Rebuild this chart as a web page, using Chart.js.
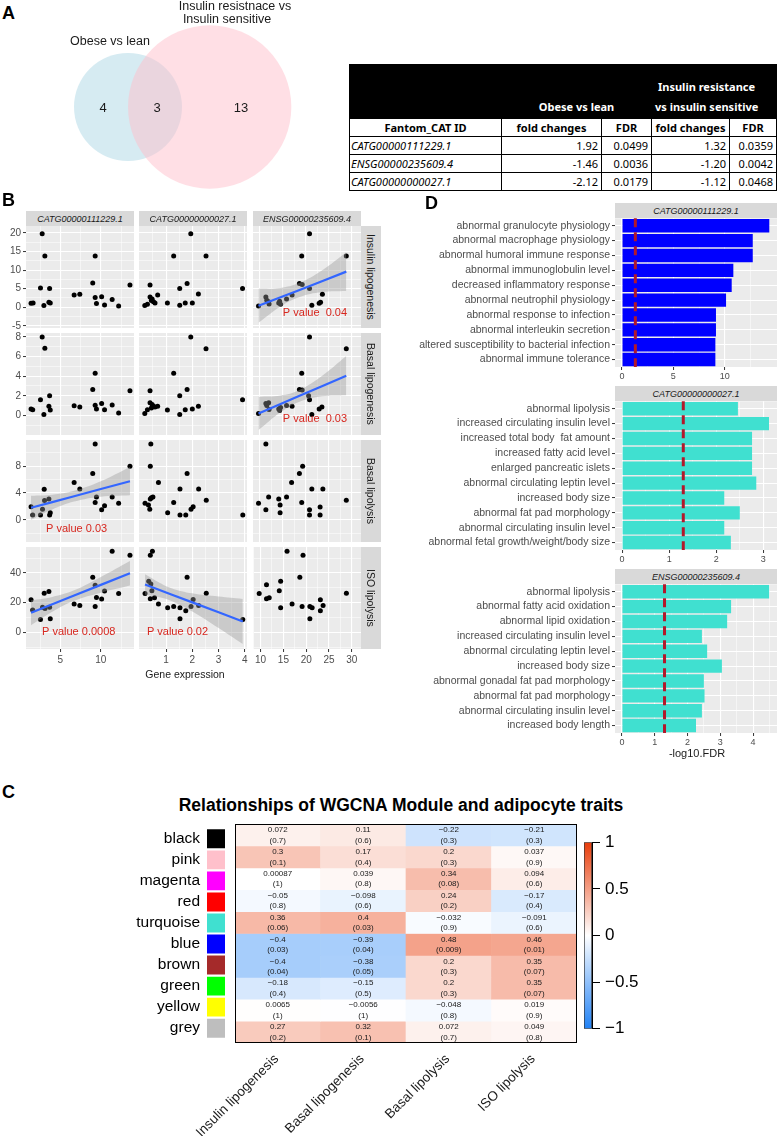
<!DOCTYPE html>
<html>
<head>
<meta charset="utf-8">
<title>Fantom_CAT genes and adipocyte traits</title>
<script src="https://cdn.jsdelivr.net/npm/chart.js@4.4.1/dist/chart.umd.min.js"></script>
<style>
  body { margin: 0; background: #fff; }
  #page { position: relative; width: 781px; height: 1136px; overflow: hidden;
          font-family: "Liberation Sans", Arial, sans-serif; color: #000; }
  #page canvas { position: absolute; }
  .txt { position: absolute; white-space: nowrap; line-height: 1; }
  .tag { position: absolute; font-weight: bold; font-size: 18px; line-height: 1; }
  .strip { position: absolute; background: #D9D9D9; color: #1A1A1A; font-size: 9px; font-style: italic;
           display: flex; align-items: center; justify-content: center; white-space: nowrap; }
  .strip.side { writing-mode: vertical-rl; font-style: normal; font-size: 10.5px; }
  #fcTable { position: absolute; left: 349px; top: 64px; width: 427px; table-layout: fixed;
             border-collapse: collapse; font-family: "Noto Sans", sans-serif; font-size: 11px; }
  #fcTable td { border: 1px solid #000; padding: 0 3px; height: 17px; line-height: 17px; white-space: nowrap; }
  #fcTable tr.dark td { background: #000; color: #fff; font-weight: bold; vertical-align: bottom;
                        text-align: center; height: 52px; line-height: 20px; padding-bottom: 1px; }
  #fcTable tr.dark td.ir { padding-right: 18px; }
  #fcTable tr.head td { font-weight: bold; text-align: center; }
  #fcTable td.id { font-style: italic; padding-left: 1px; }
  #fcTable td.num { text-align: right; }
</style>
</head>
<body>
<div id="page"></div>
<script>
// ---------------- A: overlap of the two comparisons ----------------
const vennNames = ['Obese vs lean', 'Insulin resistnace vs', 'Insulin sensitive'];
const vennOnly = [4, 13];      // genes only in each comparison
const vennBoth = 3;            // genes in both
const vennFills = ['rgba(173,216,230,0.5)', 'rgba(255,192,203,0.5)'];

const tableIds = ['CATG00000111229.1', 'ENSG00000235609.4', 'CATG00000000027.1'];
const obeseFold = [1.92, -1.46, -2.12];
const obeseFdr = [0.0499, 0.0036, 0.0179];
const irFold = [1.32, -1.20, -1.12];
const irFdr = [0.0359, 0.0042, 0.0468];

// ---------------- B: trait vs gene expression ----------------
const genes = ['CATG00000111229.1', 'CATG00000000027.1', 'ENSG00000235609.4'];
const traits = ['Insulin lipogenesis', 'Basal lipogenesis', 'Basal lipolysis', 'ISO lipolysis'];

const insLipo1 = [[1.375,1.07],[1.63,1.16],[2.75,19.8],[2.54,5.2],[3.08,13.8],[2.96,0.44],[3.67,5.07],[3.58,1.33],[3.75,1.16],[6.7,3.3],
  [7.4,3.5],[9.3,13.8],[9.0,6.5],[9.3,2.6],[9.46,1.0],[10.1,2.8],[10.46,0.6],[11.4,2.1],[12.2,0.36],[13.6,6.0]];
const insLipo2 = [[1.94,19.8],[1.29,13.8],[2.52,13.8],[0.39,5.96],[1.52,5.07],[1.80,6.4],[2.23,3.56],[3.91,5.07],[0.68,3.3],[0.39,2.76],
  [0.47,2.2],[0.44,1.8],[0.52,1.5],[0.19,0.44],[0.29,0.8],[0.58,1.16],[1.05,1.16],[1.52,0.53],[1.73,1.16],[2.0,1.16]];
const insLipo3 = [[20.8,19.8],[19.1,13.8],[28.8,13.8],[9.7,0.36],[11.3,2.76],[12.0,0.9],[14.1,1.16],[14.5,0.8],[15.8,2.2],[17.0,3.3],
  [18.6,6.4],[19.2,6.1],[20.8,5.07],[21.3,0.53],[22.9,1.07],[23.2,1.33],[23.6,3.5],[11.9,1.5],[14.3,1.6],[11.5,1.9]];

const basLipo1 = [[1.375,0.65],[1.58,0.57],[2.75,8.0],[3.08,6.85],[2.54,1.6],[2.96,0.1],[3.67,2.0],[3.58,0.93],[3.75,0.54],[6.7,0.97],
  [7.4,0.86],[9.3,4.3],[9.0,2.65],[9.3,1.04],[9.46,0.65],[10.1,1.2],[10.46,0.57],[11.4,1.07],[12.2,0.25],[13.6,2.5]];
const basLipo2 = [[1.94,8.0],[2.52,6.8],[1.29,4.3],[0.39,2.5],[1.52,2.0],[1.80,2.65],[2.23,0.93],[3.91,1.6],[0.68,0.93],[0.39,1.3],
  [0.47,1.1],[0.52,0.93],[0.19,0.2],[0.29,0.57],[0.58,0.86],[1.05,0.54],[1.52,0.1],[1.73,0.57],[2.0,0.65],[0.44,0.75]];
const basLipo3 = [[20.8,8.0],[28.8,6.8],[19.1,4.3],[9.7,0.2],[11.3,1.2],[11.5,1.0],[12.0,0.6],[14.1,0.65],[14.5,0.8],[15.8,1.0],
  [17.0,0.93],[18.6,2.65],[19.2,2.6],[20.6,2.0],[20.8,1.6],[21.3,0.1],[22.9,0.65],[23.5,0.86],[11.9,1.3],[14.3,0.5]];

const basLys1 = [[1.375,1.94],[1.58,0.73],[3.0,4.55],[3.04,2.9],[3.58,3.1],[2.79,1.57],[2.54,0.73],[3.67,0.73],[3.75,1.05],[6.7,5.55],
  [7.4,4.6],[9.0,6.9],[9.3,2.6],[9.46,3.4],[10.1,1.5],[10.46,2.1],[11.4,3.4],[12.2,2.46],[13.6,8.0],[9.3,11.3]];
const basLys2 = [[0.42,11.3],[0.4,8.0],[0.71,5.55],[1.8,6.9],[1.53,4.6],[2.24,4.6],[2.53,2.93],[1.29,2.6],[0.44,3.3],[0.5,3.4],
  [0.4,3.1],[0.2,2.46],[0.33,2.2],[0.38,1.57],[1.06,1.05],[1.53,0.73],[1.75,0.73],[1.95,1.57],[2.03,1.94],[3.92,0.73]];
const basLys3 = [[11.3,11.3],[19.3,8.0],[18.6,6.9],[16.9,5.55],[21.3,4.6],[23.7,4.6],[11.9,3.4],[14.1,3.1],[15.8,3.4],[14.4,2.2],
  [9.7,2.46],[11.3,1.5],[19.1,2.6],[20.8,1.5],[20.8,0.73],[23.1,1.9],[23.1,0.73],[14.4,1.05],[28.8,2.93]];

const isoLys1 = [[1.375,21.9],[1.58,15.1],[2.54,8.7],[2.79,16.9],[3.0,26.4],[3.58,27.5],[3.67,16.9],[3.75,9.2],[6.7,19.1],[7.4,18.1],
  [9.0,37.2],[9.3,17.4],[9.46,23.5],[9.3,31.8],[10.1,22.4],[10.46,27.8],[11.4,54.6],[12.2,26.1],[13.6,52.0],[3.1,16.0]];
const isoLys2 = [[0.4,52],[0.48,54.6],[1.8,37.2],[0.34,34.4],[0.2,26.1],[0.4,22.6],[0.56,23.3],[0.46,28],[0.71,19.1],[1.06,16.5],
  [1.29,17.4],[1.53,16.5],[1.53,9.2],[1.75,14.6],[1.95,17.4],[2.03,22.1],[2.24,18.1],[2.53,26.4],[3.92,8.7],[0.42,32.5]];
const isoLys3 = [[15.8,54.6],[19.3,52],[18.6,37.2],[14.4,34.4],[11.3,32],[9.7,26.1],[14.1,28],[11.3,22.6],[11.9,23.3],[16.9,19.1],
  [14.4,16.5],[19.1,17.4],[20.8,17.4],[21.3,16.5],[20.8,9.2],[23.1,21.9],[23.7,18.1],[23.1,14.6],[28.8,26.4]];

// linear fits with confidence band: [x, fit, lower, upper]
const fitInsLipo3 = [[9.7,0.4,-4.2,5.0],[14.5,2.7,0.2,5.2],[18.5,4.6,2.7,6.5],[23.5,7.0,4.1,9.9],[28.8,9.6,4.4,14.8]];
const fitBasLipo3 = [[9.7,0.2,-1.5,1.9],[14.5,1.17,0.31,2.03],[18.5,1.97,1.37,2.57],[23.5,2.98,1.94,4.02],[28.8,4.05,2.05,6.05]];
const fitBasLys1 = [[1.375,1.8,0.0,3.6],[4,2.65,1.55,3.75],[6.7,3.52,2.72,4.32],[10,4.59,3.44,5.74],[13.6,5.76,3.66,7.86]];
const fitIsoLys1 = [[1.375,13.2,4.8,21.6],[4,18.9,13.9,23.9],[6.7,24.8,21.3,28.3],[10,32.0,26.7,37.3],[13.6,39.8,31.5,48.1]];
const fitIsoLys2 = [[0.2,32.2,25.3,39.1],[0.7,28.9,23.8,34.0],[1.2,25.5,21.2,29.8],[2.0,20.2,14.1,26.3],[3.0,13.5,2.9,24.1],[3.92,7.3,-7.9,22.5]];

// text, row, col, x, y
const pNotes = [['P value  0.04', 0, 2, 15.0, -1.5], ['P value  0.03', 1, 2, 15.0, -0.4],
  ['P value 0.03', 2, 0, 3.22, -1.3], ['P value 0.0008', 3, 0, 2.73, 0.2], ['P value 0.02', 3, 1, 0.27, 0.2]];

const xRanges = [[0.75, 14.1], [-0.03, 4.08], [8.5, 32]];
const xMajor = [[5, 10], [1, 2, 3, 4], [10, 15, 20, 25, 30]];
const xMinor = [[2.5, 7.5, 12.5], [0.5, 1.5, 2.5, 3.5], [12.5, 17.5, 22.5, 27.5]];
const yRanges = [[-5.6, 21.9], [-2.0, 8.4], [-3.3, 11.9], [-11.2, 57.5]];
const yMajor = [[-5, 0, 5, 10, 15, 20], [0, 2, 4, 6, 8], [0, 4, 8], [0, 20, 40]];
const yMinor = [[-2.5, 2.5, 7.5, 12.5, 17.5], [-1, 1, 3, 5, 7], [-2, 2, 6, 10], [-10, 10, 30, 50]];

// ---------------- D: enriched phenotypes ----------------
const d1Terms = ['abnormal granulocyte physiology', 'abnormal macrophage physiology', 'abnormal humoral immune response',
  'abnormal immunoglobulin level', 'decreased inflammatory response', 'abnormal neutrophil physiology',
  'abnormal response to infection', 'abnormal interleukin secretion', 'altered susceptibility to bacterial infection',
  'abnormal immune tolerance'];
const d1LogFdr = [14.34, 12.73, 12.73, 10.84, 10.68, 10.13, 9.15, 9.15, 9.09, 9.09];
const d2Terms = ['abnormal lipolysis', 'increased circulating insulin level', 'increased total body  fat amount',
  'increased fatty acid level', 'enlarged pancreatic islets', 'abnormal circulating leptin level', 'increased body size',
  'abnormal fat pad morphology', 'abnormal circulating insulin level', 'abnormal fetal growth/weight/body size'];
const d2LogFdr = [2.46, 3.12, 2.76, 2.76, 2.76, 2.85, 2.17, 2.5, 2.17, 2.31];
const d3Terms = ['abnormal lipolysis', 'abnormal fatty acid oxidation', 'abnormal lipid oxidation',
  'increased circulating insulin level', 'abnormal circulating leptin level', 'increased body size',
  'abnormal gonadal fat pad morphology', 'abnormal fat pad morphology', 'abnormal circulating insulin level',
  'increased body length'];
const d3LogFdr = [4.49, 3.33, 3.21, 2.44, 2.6, 3.05, 2.5, 2.52, 2.44, 2.26];
const fdrCutoff = 1.3;   // -log10(0.05)

// ---------------- C: module-trait correlations ----------------
const modules = ['black', 'pink', 'magenta', 'red', 'turquoise', 'blue', 'brown', 'green', 'yellow', 'grey'];
const moduleColors = ['#000000', '#FFC0CB', '#FF00FF', '#FF0000', '#40E0D0', '#0000FF', '#A52A2A', '#00FF00', '#FFFF00', '#BEBEBE'];
const corrInsLipo = [0.072, 0.3, 0.00087, -0.05, 0.36, -0.4, -0.4, -0.18, 0.0065, 0.27];
const pInsLipo = [0.7, 0.1, 1, 0.8, 0.06, 0.03, 0.04, 0.4, 1, 0.2];
const corrBasLipo = [0.11, 0.17, 0.039, -0.098, 0.4, -0.39, -0.38, -0.15, -0.0056, 0.32];
const pBasLipo = [0.6, 0.4, 0.8, 0.6, 0.03, 0.04, 0.05, 0.5, 1, 0.1];
const corrBasLys = [-0.22, 0.2, 0.34, 0.24, -0.032, 0.48, 0.2, 0.2, -0.048, 0.072];
const pBasLys = [0.3, 0.3, 0.08, 0.2, 0.9, 0.009, 0.3, 0.3, 0.8, 0.7];
const corrIsoLys = [-0.21, 0.037, 0.094, -0.17, -0.091, 0.46, 0.35, 0.35, 0.019, 0.049];
const pIsoLys = [0.3, 0.9, 0.6, 0.4, 0.6, 0.01, 0.07, 0.07, 0.9, 0.8];
const colorTicks = [-1, -0.5, 0, 0.5, 1];

// ====================================================================
Chart.defaults.font.family = '"Liberation Sans", Arial, sans-serif';
const page = document.getElementById('page');

function addCanvas(left, top, w, h) {
  const c = document.createElement('canvas');
  c.width = w; c.height = h;
  c.style.left = left + 'px'; c.style.top = top + 'px';
  c.style.width = w + 'px'; c.style.height = h + 'px';
  page.appendChild(c);
  return c;
}
function addText(text, x, y, css, cls) {
  const d = document.createElement('div');
  d.className = cls || 'txt';
  d.textContent = text;
  d.style.left = x + 'px'; d.style.top = y + 'px';
  Object.assign(d.style, css || {});
  page.appendChild(d);
  return d;
}
function centerText(text, x, y, css) {
  return addText(text, x, y, Object.assign({ transform: 'translate(-50%,-50%)' }, css || {}));
}
const baseOpts = () => ({
  responsive: false, animation: false, devicePixelRatio: 1, events: [],
  plugins: { legend: { display: false }, tooltip: { enabled: false } }
});
const pad = (t, r, b, l) => ({ autoPadding: false, padding: { top: t, right: r, bottom: b, left: l } });
const minus = s => String(s).replace('-', '\u2212');

// ggplot-like linear axis: white major + thin minor grid lines, labels on majors only
function linAxis(range, major, minor, o) {
  const isMajor = v => major.includes(v);
  return {
    type: 'linear', min: range[0], max: range[1],
    afterBuildTicks: s => { s.ticks = major.concat(minor).sort((a, b) => a - b).map(v => ({ value: v })); },
    afterFit: s => { if (s.isHorizontal()) s.height = o.size; else s.width = o.size; },
    border: { display: false },
    grid: {
      color: '#FFFFFF', lineWidth: c => isMajor(c.tick && c.tick.value) ? 1.1 : 0.5,
      drawTicks: o.labels, tickLength: 3, tickWidth: 1,
      tickColor: c => isMajor(c.tick && c.tick.value) ? '#333333' : 'rgba(0,0,0,0)'
    },
    ticks: {
      display: o.labels, autoSkip: false, maxRotation: 0, padding: o.pad || 2, color: '#4D4D4D',
      font: { size: o.font || 10 }, callback: v => isMajor(v) ? String(v) : ''
    }
  };
}
const panelBg = {
  id: 'panelBg',
  beforeDraw(chart) {
    const a = chart.chartArea, c = chart.ctx;
    c.save(); c.fillStyle = '#EBEBEB'; c.fillRect(a.left, a.top, a.width, a.height); c.restore();
  }
};

// ---------------- A ----------------
addText('A', 2, 4, {}, 'tag');
(function venn() {
  const lens = (r1, r2, d) =>
    r1 * r1 * Math.acos((d * d + r1 * r1 - r2 * r2) / (2 * d * r1)) +
    r2 * r2 * Math.acos((d * d + r2 * r2 - r1 * r1) / (2 * d * r2)) -
    0.5 * Math.sqrt((-d + r1 + r2) * (d + r1 - r2) * (d - r1 + r2) * (d + r1 + r2));
  // area-proportional circles, centre distance found by bisection
  const rA = Math.sqrt((vennOnly[0] + vennBoth) / Math.PI);
  const rB = Math.sqrt((vennOnly[1] + vennBoth) / Math.PI);
  let lo = Math.abs(rA - rB) + 1e-6, hi = rA + rB - 1e-6;
  for (let i = 0; i < 60; i++) {
    const mid = (lo + hi) / 2;
    if (lens(rA, rB, mid) > vennBoth) lo = mid; else hi = mid;
  }
  const d = (lo + hi) / 2;
  const W = 340, H = 195, cx = 128, cy = 107, unit = 54 / rA;   // px per data unit
  new Chart(addCanvas(0, 0, W, H), {
    type: 'bubble',
    data: { datasets: [{
      data: [{ x: 0, y: 0, r: rA * unit }, { x: d, y: 0, r: rB * unit }],
      backgroundColor: vennFills, borderWidth: 0
    }] },
    options: Object.assign(baseOpts(), {
      layout: pad(0, 0, 0, 0),
      clip: false,
      scales: {
        x: { display: false, min: -cx / unit, max: (W - cx) / unit },
        y: { display: false, min: -(H - cy) / unit, max: cy / unit }
      }
    })
  });
  const lbl = { fontSize: '12.5px', color: '#1a1a1a' };
  centerText(vennNames[0], 110, 41, lbl);
  centerText(vennNames[1], 235, 6, lbl);
  centerText(vennNames[2], 227, 19, lbl);
  const num = { fontSize: '13px', color: '#1a1a1a' };
  centerText(String(vennOnly[0]), 103, 107, num);
  centerText(String(vennBoth), 157, 107, num);
  centerText(String(vennOnly[1]), 241, 107, num);
})();

(function table() {
  const t = document.createElement('table');
  t.id = 'fcTable';
  const widths = [152, 100, 50, 78, 47];
  let html = '<colgroup>' + widths.map(w => `<col style="width:${w}px">`).join('') + '</colgroup>';
  html += '<tr class="dark"><td></td><td colspan="2">Obese vs lean</td>' +
          '<td colspan="2" class="ir">Insulin resistance<br>vs insulin sensitive</td></tr>';
  html += '<tr class="head"><td>Fantom_CAT ID</td><td>fold changes</td><td>FDR</td><td>fold changes</td><td>FDR</td></tr>';
  tableIds.forEach((id, i) => {
    html += `<tr><td class="id">${id}</td><td class="num">${obeseFold[i].toFixed(2)}</td>` +
            `<td class="num">${obeseFdr[i].toFixed(4)}</td><td class="num">${irFold[i].toFixed(2)}</td>` +
            `<td class="num">${irFdr[i].toFixed(4)}</td></tr>`;
  });
  t.innerHTML = html;
  page.appendChild(t);
})();

// ---------------- B ----------------
addText('B', 2, 191, {}, 'tag');
const colLeft = [26, 139, 253], panelW = 108;
const stripTop = 211;
const rowTop = [226, 333, 440, 547], panelH = 102;
const panelPoints = [[insLipo1, insLipo2, insLipo3], [basLipo1, basLipo2, basLipo3],
                     [basLys1, basLys2, basLys3], [isoLys1, isoLys2, isoLys3]];
const panelFits = [[null, null, fitInsLipo3], [null, null, fitBasLipo3],
                   [fitBasLys1, null, null], [fitIsoLys1, fitIsoLys2, null]];

const pNotePlugin = {
  id: 'pNote',
  afterDatasetsDraw(chart, args, opts) {
    if (!opts.text) return;
    const c = chart.ctx;
    c.save();
    c.fillStyle = '#D7261E'; c.font = '11px "Liberation Sans", Arial, sans-serif'; c.textBaseline = 'middle';
    c.fillText(opts.text, chart.scales.x.getPixelForValue(opts.x), chart.scales.y.getPixelForValue(opts.y));
    c.restore();
  }
};

function scatterPanel(r, c) {
  const showY = c === 0, showX = r === 3;
  const sl = showY ? 26 : 0, st = 8, sr = 4, sb = showX ? 18 : 8;
  const cv = addCanvas(colLeft[c] - sl, rowTop[r] - st, sl + panelW + sr, st + panelH + sb);
  const fit = panelFits[r][c];
  const datasets = [];
  if (fit) {
    datasets.push({ type: 'line', data: fit.map(p => ({ x: p[0], y: p[1] })), borderColor: '#3366FF',
                    borderWidth: 2.2, pointRadius: 0, showLine: true, order: 0 });
    datasets.push({ type: 'line', data: fit.map(p => ({ x: p[0], y: p[3] })), borderWidth: 0,
                    borderColor: 'rgba(0,0,0,0)', backgroundColor: 'rgba(153,153,153,0.4)', fill: '+1',
                    pointRadius: 0, tension: 0.4, showLine: true, order: 1 });
    datasets.push({ type: 'line', data: fit.map(p => ({ x: p[0], y: p[2] })), borderWidth: 0,
                    borderColor: 'rgba(0,0,0,0)', pointRadius: 0, tension: 0.4, showLine: true, order: 2 });
  }
  datasets.push({ type: 'scatter', data: panelPoints[r][c].map(p => ({ x: p[0], y: p[1] })),
                  backgroundColor: '#000', borderWidth: 0, pointRadius: 2.5, order: 3 });
  const note = pNotes.find(n => n[1] === r && n[2] === c);
  const opts = baseOpts();
  opts.plugins.pNote = note ? { text: note[0], x: note[3], y: note[4] } : {};
  opts.layout = pad(st, sr, showX ? 0 : sb, 0);
  opts.scales = {
    x: linAxis(xRanges[c], xMajor[c], xMinor[c], { labels: showX, size: showX ? sb : 0 }),
    y: linAxis(yRanges[r], yMajor[r], yMinor[r], { labels: showY, size: sl })
  };
  new Chart(cv, { type: 'scatter', data: { datasets }, options: opts, plugins: [panelBg, pNotePlugin] });
}
for (let r = 0; r < 4; r++) for (let c = 0; c < 3; c++) scatterPanel(r, c);

genes.forEach((g, c) => {
  addText(g, colLeft[c], stripTop, { width: panelW + 'px', height: '15px' }, 'strip');
});
traits.forEach((t, r) => {
  addText(t, 361, rowTop[r], { width: '20px', height: panelH + 'px' }, 'strip side');
});
centerText('Gene expression', 185, rowTop[3] + panelH + 25, { fontSize: '10.5px', color: '#1a1a1a' });

// ---------------- D ----------------
addText('D', 425, 194, {}, 'tag');
const fdrLine = {
  id: 'fdrLine',
  afterDatasetsDraw(chart) {
    const x = chart.scales.x.getPixelForValue(fdrCutoff), a = chart.chartArea, c = chart.ctx;
    c.save();
    c.strokeStyle = '#B2182B'; c.lineWidth = 3; c.setLineDash([9, 5]);
    c.beginPath(); c.moveTo(x, a.top); c.lineTo(x, a.bottom); c.stroke();
    c.restore();
  }
};
function fdrPanel(top, title, terms, values, color, range, major, minor) {
  const left = 615, w = 162, h = 149, sl = 225, st = 8, sr = 4, sb = 14;
  addText(title, left, top - 15, { width: w + 'px', height: '15px' }, 'strip');
  const cv = addCanvas(left - sl, top - st, sl + w + sr, st + h + sb);
  const opts = baseOpts();
  opts.indexAxis = 'y';
  opts.layout = pad(st, sr, 0, 0);
  opts.scales = {
    x: linAxis(range, major, minor, { labels: true, size: sb, font: 9, pad: 1 }),
    y: {
      type: 'category', offset: true,
      afterFit: s => { s.width = sl; },
      border: { display: false },
      grid: { color: '#FFFFFF', lineWidth: 1.1, offset: false, drawTicks: true, tickLength: 3, tickWidth: 1, tickColor: '#333333' },
      ticks: { autoSkip: false, padding: 2, color: '#4D4D4D', font: { size: 10.5 } }
    }
  };
  new Chart(cv, {
    type: 'bar',
    data: { labels: terms, datasets: [{ data: values, backgroundColor: color, borderWidth: 0,
                                        barPercentage: 0.9, categoryPercentage: 1 }] },
    options: opts, plugins: [panelBg, fdrLine]
  });
}
fdrPanel(218, genes[0], d1Terms, d1LogFdr, '#0000FF', [-0.68, 15.09], [0, 5, 10], [2.5, 7.5, 12.5]);
fdrPanel(401, genes[1], d2Terms, d2LogFdr, '#40E0D0', [-0.15, 3.29], [0, 1, 2, 3], [0.5, 1.5, 2.5]);
fdrPanel(584, genes[2], d3Terms, d3LogFdr, '#40E0D0', [-0.21, 4.73], [0, 1, 2, 3, 4], [0.5, 1.5, 2.5, 3.5, 4.5]);
centerText('-log10.FDR', 697, 753, { fontSize: '11px', color: '#1a1a1a' });

// ---------------- C ----------------
addText('C', 2, 783, {}, 'tag');
centerText('Relationships of WGCNA Module and adipocyte traits', 401, 806, { fontSize: '17.5px', fontWeight: 'bold' });

const negEnd = [32, 129, 245], posEnd = [232, 61, 11];
function heatColor(v) {
  const e = v < 0 ? negEnd : posEnd, t = Math.min(1, Math.abs(v));
  return 'rgb(' + e.map(k => Math.round(255 + (k - 255) * t)).join(',') + ')';
}
const traitCorr = [corrInsLipo, corrBasLipo, corrBasLys, corrIsoLys];
const traitP = [pInsLipo, pBasLipo, pBasLys, pIsoLys];
const heat = { left: 235, top: 824, right: 577, bottom: 1043 };

(function heatmap() {
  const cl = 180, ct = 817;
  const cv = addCanvas(cl, ct, 402, 1136 - ct);
  const cellText = {
    id: 'cellText',
    afterDatasetsDraw(chart) {
      const c = chart.ctx, a = chart.chartArea;
      c.save();
      c.fillStyle = '#1a1a1a'; c.font = '8px "Liberation Sans", Arial, sans-serif';
      c.textAlign = 'center'; c.textBaseline = 'middle';
      chart.data.datasets.forEach((ds, i) => {
        chart.getDatasetMeta(i).data.forEach((el, j) => {
          const yc = (el.y + el.base) / 2;
          c.fillText(minus(traitCorr[j][i]), el.x, yc - 5);
          c.fillText('(' + traitP[j][i] + ')', el.x, yc + 5.5);
        });
      });
      c.strokeStyle = '#000'; c.lineWidth = 1;
      c.strokeRect(a.left + 0.5, a.top + 0.5, a.width - 1, a.height - 1);
      // rotated trait names under each column
      c.fillStyle = '#1a1a1a'; c.font = '13.5px "Liberation Sans", Arial, sans-serif';
      c.textAlign = 'right'; c.textBaseline = 'top';
      traits.forEach((t, j) => {
        c.save();
        c.translate(chart.scales.x.getPixelForValue(j) - 6, a.bottom + 9);
        c.rotate(-Math.PI / 4);
        c.fillText(t, 0, 0);
        c.restore();
      });
      c.restore();
    }
  };
  const opts = baseOpts();
  opts.layout = pad(heat.top - ct, cl + 402 - heat.right, 1136 - heat.bottom, heat.left - cl);
  opts.scales = {
    x: { display: false, stacked: true },
    y: { display: false, stacked: true, reverse: true, min: 0, max: modules.length }
  };
  new Chart(cv, {
    type: 'bar',
    data: {
      labels: traits,
      datasets: modules.map((m, i) => ({
        label: m, data: traits.map(() => 1), borderWidth: 0, barPercentage: 1, categoryPercentage: 1,
        backgroundColor: traitCorr.map(col => heatColor(col[i]))
      }))
    },
    options: opts, plugins: [cellText]
  });
})();

(function swatches() {
  const cl = 90, ct = 812, w = 226 - cl, h = 1055 - ct;
  const opts = baseOpts();
  opts.indexAxis = 'y';
  opts.layout = pad(heat.top - ct, cl + w - 225, ct + h - heat.bottom, 0);
  opts.scales = {
    x: { display: false, min: 0, max: 1 },
    y: { afterFit: s => { s.width = 207 - cl; }, grid: { display: false, drawTicks: false }, border: { display: false },
         ticks: { autoSkip: false, padding: 7, color: '#000', font: { size: 15.5 } } }
  };
  new Chart(addCanvas(cl, ct, w, h), {
    type: 'bar',
    data: { labels: modules, datasets: [{ data: modules.map(() => 1), backgroundColor: moduleColors,
                                          borderWidth: 0, barPercentage: 1, categoryPercentage: 0.9 }] },
    options: opts
  });
})();

(function colorBar() {
  const cl = 580, ct = 827, w = 75, h = 217;
  const opts = baseOpts();
  opts.layout = pad(841 - ct, 0, ct + h - 1031, 584 - cl);
  opts.scales = {
    x: { display: false },
    y: {
      position: 'right', min: colorTicks[0], max: colorTicks[colorTicks.length - 1],
      afterBuildTicks: s => { s.ticks = colorTicks.map(v => ({ value: v })); },
      afterFit: s => { s.width = cl + w - 592; },
      grid: { drawOnChartArea: false, drawTicks: true, tickLength: 8, tickColor: '#000', tickWidth: 1 },
      border: { display: true, color: '#000', width: 1 },
      ticks: { padding: 5, color: '#000', font: { size: 17 }, callback: v => minus(v) }
    }
  };
  new Chart(addCanvas(cl, ct, w, h), {
    type: 'bar',
    data: { labels: [''], datasets: [{
      data: [[colorTicks[0], colorTicks[colorTicks.length - 1]]],
      borderColor: '#333', borderWidth: 1, borderSkipped: false, barPercentage: 1, categoryPercentage: 1,
      backgroundColor: c => {
        const ch = c.chart, ys = ch.scales.y;
        if (!ch.chartArea || !ys) return '#fff';
        const g = ch.ctx.createLinearGradient(0, ys.getPixelForValue(-1), 0, ys.getPixelForValue(1));
        for (let k = 0; k <= 20; k++) g.addColorStop(k / 20, heatColor(-1 + k / 10));
        return g;
      }
    }] },
    options: opts
  });
})();
</script>
</body>
</html>
